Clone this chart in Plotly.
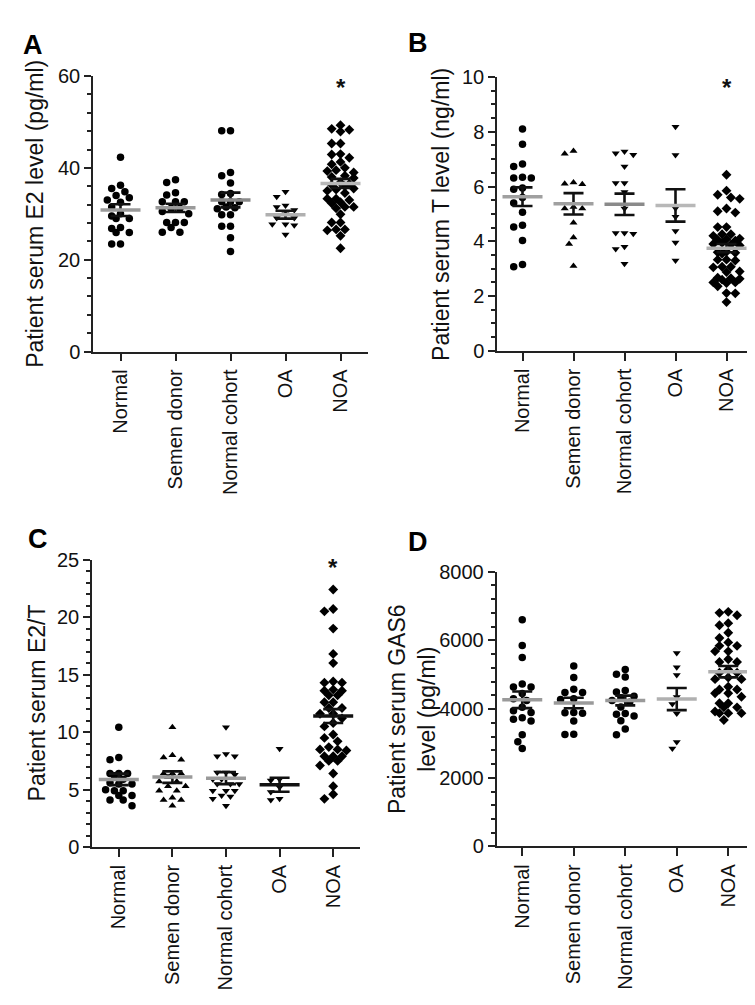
import plotly.graph_objects as go

W, H = 755, 1005
FONT = "Liberation Sans, Arial, sans-serif"

categories = ["Normal", "Semen donor", "Normal cohort", "OA", "NOA"]

# ---- Panel A: serum E2 (pg/ml)
e2_normal = [42.3, 36.2, 35.5, 34.8, 34.0, 33.5, 33.0, 32.5, 31.5, 30.0, 29.5, 29.0, 29.0, 27.0, 26.8, 25.9, 25.9, 23.4, 23.4]
e2_donor = [37.4, 36.8, 34.6, 34.1, 32.6, 32.6, 32.6, 31.2, 31.2, 30.5, 30.0, 28.1, 28.1, 28.1, 27.0, 26.0, 26.0]
e2_cohort = [48.1, 48.1, 39.0, 38.3, 36.7, 34.4, 34.2, 32.6, 32.6, 32.6, 31.5, 31.3, 31.1, 29.8, 29.8, 27.3, 27.3, 24.8, 21.8]
e2_oa = [34.8, 33.7, 31.8, 31.5, 30.8, 29.9, 29.1, 29.1, 27.7, 27.5, 27.7, 25.5]
e2_noa = [49.3, 48.5, 48.3, 47.9, 45.3, 45.3, 43.0, 42.9, 42.2, 41.3, 40.8, 40.0, 39.5, 39.3, 39.0,
          38.3, 38.0, 37.8, 36.8, 36.5, 36.3, 36.0, 35.5, 35.3, 35.0, 34.5, 33.3, 33.3, 33.0, 32.5,
          32.3, 31.5, 31.5, 31.2, 29.9, 28.1, 28.1, 26.6, 26.6, 26.4, 25.2, 22.5]
e2_mean = [30.8, 31.3, 33.0, 29.8, 36.6]
e2_sem = [1.28, 0.9, 1.6, 0.85, 1.0]

# ---- Panel B: serum T (ng/ml)
t_normal = [8.1, 7.54, 6.82, 6.73, 6.34, 6.31, 6.31, 5.95, 5.9, 5.6, 5.4, 5.06, 4.59, 4.52, 4.03, 3.15, 3.07]
t_donor = [7.3, 7.2, 6.15, 6.1, 6.08, 5.25, 5.2, 5.2, 4.68, 4.14, 3.9, 3.1]
t_cohort = [7.28, 7.22, 7.16, 6.73, 6.13, 6.13, 5.8, 5.2, 4.3, 4.28, 4.3, 3.8, 3.72, 3.18]
t_oa = [8.18, 7.15, 5.21, 4.9, 4.38, 3.96, 3.3]
t_noa = [6.43, 5.85, 5.7, 5.6, 5.55, 5.2, 5.1, 5.05, 4.52, 4.52, 4.26, 4.26, 4.2, 4.1, 4.08, 4.05,
         4.02, 3.95, 3.9, 3.88, 3.85, 3.62, 3.6, 3.58, 3.55, 3.33, 3.33, 3.3, 3.07, 3.07, 3.05, 2.9,
         2.88, 2.67, 2.65, 2.63, 2.6, 2.5, 2.5, 2.48, 2.36, 2.11, 2.1, 1.78]
t_mean = [5.63, 5.37, 5.35, 5.31, 3.75]
t_sem = [0.34, 0.39, 0.39, 0.59, 0.15]

# ---- Panel C: serum E2/T
r_normal = [10.43, 7.8, 7.6, 6.4, 6.4, 6.4, 6.2, 5.9, 5.6, 5.5, 5.5, 5.0, 4.9, 4.9, 4.5, 4.5, 4.1, 4.1, 3.6]
r_donor = [10.43, 8.0, 7.8, 7.6, 6.4, 6.4, 6.4, 6.1, 5.7, 5.7, 5.3, 5.3, 4.9, 4.9, 4.3, 4.1, 4.1, 3.6]
r_cohort = [10.43, 8.1, 7.9, 7.9, 6.5, 6.5, 6.3, 5.9, 5.9, 5.5, 5.5, 5.5, 4.9, 4.9, 4.9, 4.5, 4.4, 4.2, 3.6]
r_oa = [8.56, 5.9, 5.8, 5.2, 4.8, 4.2, 4.1]
r_noa = [22.4, 20.7, 20.5, 19.0, 16.8, 16.0, 14.4, 14.3, 14.3, 13.7, 13.6, 13.6, 13.2, 13.2, 12.6,
         12.6, 12.1, 12.1, 11.6, 11.6, 11.2, 10.8, 10.5, 9.8, 9.5, 9.2, 8.7, 8.5, 8.5, 8.4, 7.9, 7.9,
         7.9, 7.5, 7.5, 7.1, 6.4, 5.3, 4.6, 4.2]
r_mean = [5.89, 6.09, 6.0, 5.43, 11.4]
r_sem = [0.5, 0.5, 0.52, 0.61, 0.6]

# ---- Panel D: serum GAS6 (pg/ml)
g_normal = [6600, 5850, 5500, 4730, 4640, 4640, 4450, 4300, 4250, 4050, 3950, 3900, 3750, 3700, 3650, 3250, 3050, 2850]
g_donor = [5250, 4920, 4580, 4480, 4480, 4300, 4280, 3900, 3890, 3880, 3650, 3270, 3260]
g_cohort = [5150, 5010, 4930, 4540, 4500, 4370, 4330, 4250, 4200, 4060, 3870, 3850, 3800, 3660, 3420, 3250]
g_oa = [5630, 5220, 4990, 4350, 4150, 3870, 3040, 2850]
g_noa = [6830, 6800, 6730, 6500, 6440, 6220, 6070, 5940, 5840, 5840, 5680, 5680, 5450, 5370, 5370,
         5150, 5060, 5060, 4920, 4870, 4870, 4650, 4570, 4570, 4460, 4460, 4360, 4170, 4170, 4050,
         4050, 3930, 3880, 3880, 3880, 3680]
g_mean = [4270, 4175, 4250, 4290, 5087]
g_sem = [242, 152, 142, 322, 165]

panels = [
    dict(letter="A", xdom=(85, 360), ydom=(58.3, 340), ymax=60, dtick=20, minor=4,
         data=[e2_normal, e2_donor, e2_cohort, e2_oa, e2_noa], mean=e2_mean, sem=e2_sem,
         symbols=["circle", "circle", "circle", "triangle-down", "diamond"],
         mcol=["#9a9a9a", "#9a9a9a", "#8a8a8a", "#b0b0b0", "#b8b8b8"],
         title="Patient serum E2 level (pg/ml)", tx=27, lx=25, ly=27, star=57.6),
    dict(letter="B", xdom=(489, 744), ydom=(59.3, 339.3), ymax=10, dtick=2, minor=0.5,
         data=[t_normal, t_donor, t_cohort, t_oa, t_noa], mean=t_mean, sem=t_sem,
         symbols=["circle", "triangle-up", "triangle-down", "triangle-down", "diamond"],
         mcol=["#a0a0a0", "#a0a0a0", "#8a8a8a", "#b8b8b8", "#b0b0b0"],
         title="Patient serum T level (ng/ml)", tx=433, lx=410, ly=25, star=9.6),
    dict(letter="C", xdom=(84, 352), ydom=(552.7, 846.7), ymax=25, dtick=5, minor=1,
         data=[r_normal, r_donor, r_cohort, r_oa, r_noa], mean=r_mean, sem=r_sem,
         symbols=["circle", "triangle-up", "triangle-down", "triangle-down", "diamond"],
         mcol=["#9a9a9a", "#9a9a9a", "#9a9a9a", "#111111", "#111111"],
         title="Patient serum E2/T", tx=29, lx=30, ly=532, star=24.3),
    dict(letter="D", xdom=(488.5, 746), ydom=(565, 846), ymax=8000, dtick=2000, minor=400,
         data=[g_normal, g_donor, g_cohort, g_oa, g_noa], mean=g_mean, sem=g_sem,
         symbols=["circle", "circle", "circle", "triangle-down", "diamond"],
         mcol=["#9a9a9a", "#9a9a9a", "#9a9a9a", "#b0b0b0", "#b0b0b0"],
         title="Patient serum GAS6<br>level (pg/ml)", tx=404, lx=410, ly=535, star=8100),
]

SIZES = {"circle": 7.5, "triangle-up": 7, "triangle-down": 7, "diamond": 7.6}


def swarm(values, px_per_unit, diam, max_off=15.0):
    """Greedy beeswarm limited to +-max_off px; returns horizontal pixel offsets."""
    placed = []
    out = [0.0] * len(values)
    order = sorted(range(len(values)), key=lambda i: -values[i])
    cands = [0.0]
    j = 1
    while j * diam / 2 <= max_off + 0.01:
        cands += [-j * diam / 2, j * diam / 2]
        j += 1
    lim = (0.85 * diam) ** 2
    for i in order:
        y = values[i] * px_per_unit
        best, best_d = None, -1.0
        for c in cands:
            d2 = min([(px - c) ** 2 + (py - y) ** 2 for (px, py) in placed] or [1e9])
            if d2 >= lim:
                best = c
                break
            if d2 > best_d:
                best, best_d = c, d2
        placed.append((best, y))
        out[i] = best
    return out


fig = go.Figure()
layout = dict(width=W, height=H, margin=dict(l=0, r=0, t=0, b=0),
              paper_bgcolor="white", plot_bgcolor="white", showlegend=False,
              font=dict(family=FONT, size=20, color="#111"))
annotations = []

for k, p in enumerate(panels):
    n = k + 1
    xa, ya = f"x{n}", f"y{n}"
    xkey, ykey = ("xaxis" if n == 1 else f"xaxis{n}"), ("yaxis" if n == 1 else f"yaxis{n}")
    x0, x1 = p["xdom"]
    y0, y1 = p["ydom"]
    px_unit = (y1 - y0) / p["ymax"]
    px_cat = (x1 - x0) / 5.0

    for g, vals in enumerate(p["data"]):
        offs = swarm(vals, px_unit, 8.8)
        fig.add_trace(go.Scatter(
            x=[g + o / px_cat for o in offs], y=vals, mode="markers", xaxis=xa, yaxis=ya,
            marker=dict(symbol=p["symbols"][g], size=SIZES[p["symbols"][g]], color="black",
                        line=dict(width=0)),
            hoverinfo="skip", cliponaxis=False))
    for g in range(5):
        m, s = p["mean"][g], p["sem"][g]
        cap = 10 / px_cat
        fig.add_trace(go.Scatter(
            x=[g - cap, g + cap, None, g, g, None, g - cap, g + cap],
            y=[m + s, m + s, None, m - s, m + s, None, m - s, m - s],
            mode="lines", xaxis=xa, yaxis=ya, line=dict(color="#111", width=2.6),
            hoverinfo="skip"))
        half = 20 / px_cat
        fig.add_trace(go.Scatter(
            x=[g - half, g + half], y=[m, m], mode="lines", xaxis=xa, yaxis=ya,
            line=dict(color=p["mcol"][g], width=3.5), hoverinfo="skip"))

    axcol = "#222"
    layout[xkey] = dict(domain=[x0 / W, x1 / W], anchor=ya, range=[-0.5, 4.5],
                        tickmode="array", tickvals=list(range(5)), ticktext=categories,
                        tickangle=-90, ticks="outside", ticklen=8, tickwidth=1.5, tickcolor=axcol,
                        showline=True, linecolor=axcol, linewidth=1.5, showgrid=False,
                        zeroline=False, tickfont=dict(family=FONT, size=20, color="#111"),
                        fixedrange=True)
    layout[ykey] = dict(domain=[1 - y1 / H, 1 - y0 / H], anchor=xa, range=[0, p["ymax"]],
                        tickmode="linear", tick0=0, dtick=p["dtick"], ticks="outside",
                        ticklen=7, tickwidth=1.5, tickcolor=axcol,
                        minor=dict(dtick=p["minor"], ticks="outside", ticklen=4,
                                   tickwidth=1.5, tickcolor=axcol),
                        showline=True, linecolor=axcol, linewidth=1.5, showgrid=False,
                        zeroline=False, tickfont=dict(family=FONT, size=20, color="#111"),
                        fixedrange=True)

    annotations.append(dict(text="<b>*</b>", x=4, y=p["star"], xref=xa, yref=ya,
                            showarrow=False, font=dict(family=FONT, size=24, color="#111"),
                            xanchor="center", yanchor="middle"))
    annotations.append(dict(text=p["title"], x=p["tx"] / W, y=1 - ((y0 + y1) / 2) / H,
                            xref="paper", yref="paper", showarrow=False, textangle=-90,
                            font=dict(family=FONT, size=23, color="#111"),
                            xanchor="center", yanchor="middle"))
    annotations.append(dict(text=f"<b>{p['letter']}</b>", x=p["lx"] / W, y=1 - p["ly"] / H,
                            xref="paper", yref="paper", showarrow=False,
                            font=dict(family=FONT, size=27, color="#000"),
                            xanchor="center", yanchor="middle"))

layout["annotations"] = annotations
fig.update_layout(**layout)
fig.write_html("out.html")
